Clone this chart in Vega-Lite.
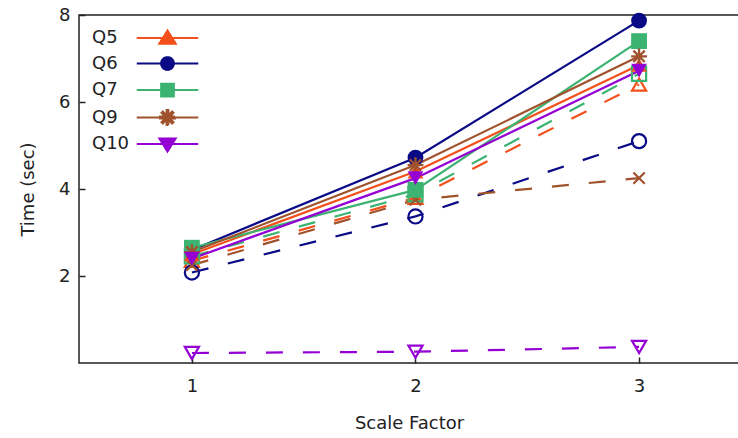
{
  "$schema": "https://vega.github.io/schema/vega-lite/v6.json",
  "width": 660,
  "height": 348,
  "autosize": {"type": "none"},
  "padding": {"left": 79, "top": 15, "right": 0, "bottom": 75},
  "background": "white",
  "config": {
    "view": {"stroke": "#222", "strokeWidth": 1.5},
    "font": "DejaVu Sans",
    "axis": {
      "domain": false,
      "grid": false,
      "labelFont": "DejaVu Sans",
      "labelFontSize": 18,
      "labelColor": "#222",
      "titleFont": "DejaVu Sans",
      "titleFontSize": 18,
      "titleFontWeight": "normal",
      "titleColor": "#222",
      "tickColor": "#222",
      "tickWidth": 1.5,
      "tickSize": -6
    }
  },
  "resolve": {"legend": {"color": "independent", "shape": "independent"}},
  "data": {
    "values": [
      {"q": "Q5", "kind": "solid", "sf": 1, "t": 2.5},
      {"q": "Q5", "kind": "solid", "sf": 2, "t": 4.4},
      {"q": "Q5", "kind": "solid", "sf": 3, "t": 6.85},
      {"q": "Q5", "kind": "dashed", "sf": 1, "t": 2.35},
      {"q": "Q5", "kind": "dashed", "sf": 2, "t": 3.8},
      {"q": "Q5", "kind": "dashed", "sf": 3, "t": 6.4},
      {"q": "Q6", "kind": "solid", "sf": 1, "t": 2.6},
      {"q": "Q6", "kind": "solid", "sf": 2, "t": 4.72},
      {"q": "Q6", "kind": "solid", "sf": 3, "t": 7.87},
      {"q": "Q6", "kind": "dashed", "sf": 1, "t": 2.08},
      {"q": "Q6", "kind": "dashed", "sf": 2, "t": 3.37},
      {"q": "Q6", "kind": "dashed", "sf": 3, "t": 5.1},
      {"q": "Q7", "kind": "solid", "sf": 1, "t": 2.65},
      {"q": "Q7", "kind": "solid", "sf": 2, "t": 3.98},
      {"q": "Q7", "kind": "solid", "sf": 3, "t": 7.4},
      {"q": "Q7", "kind": "dashed", "sf": 1, "t": 2.45},
      {"q": "Q7", "kind": "dashed", "sf": 2, "t": 3.88},
      {"q": "Q7", "kind": "dashed", "sf": 3, "t": 6.65},
      {"q": "Q9", "kind": "solid", "sf": 1, "t": 2.55},
      {"q": "Q9", "kind": "solid", "sf": 2, "t": 4.55},
      {"q": "Q9", "kind": "solid", "sf": 3, "t": 7.05},
      {"q": "Q9", "kind": "dashed", "sf": 1, "t": 2.25},
      {"q": "Q9", "kind": "dashed", "sf": 2, "t": 3.75},
      {"q": "Q9", "kind": "dashed", "sf": 3, "t": 4.25},
      {"q": "Q10", "kind": "solid", "sf": 1, "t": 2.4},
      {"q": "Q10", "kind": "solid", "sf": 2, "t": 4.25},
      {"q": "Q10", "kind": "solid", "sf": 3, "t": 6.72},
      {"q": "Q10", "kind": "dashed", "sf": 1, "t": 0.23},
      {"q": "Q10", "kind": "dashed", "sf": 2, "t": 0.26},
      {"q": "Q10", "kind": "dashed", "sf": 3, "t": 0.37}
    ]
  },
  "encoding": {
    "x": {
      "field": "sf", "type": "quantitative",
      "scale": {"domain": [0.495, 3.447], "nice": false, "zero": false},
      "axis": {"values": [1, 2, 3], "format": "d", "title": "Scale Factor", "labelPadding": 20, "titlePadding": 19}
    },
    "y": {
      "field": "t", "type": "quantitative",
      "scale": {"domain": [0, 8], "nice": false},
      "axis": {"values": [2, 4, 6, 8], "title": "Time (sec)", "labelPadding": 15, "titlePadding": 21}
    }
  },
  "layer": [
    {
      "transform": [{"filter": "datum.kind == 'dashed'"}],
      "mark": {"type": "line", "strokeWidth": 2.2, "strokeDash": [17, 20]},
      "encoding": {
        "color": {
          "field": "q", "type": "nominal",
          "scale": {"domain": ["Q5", "Q6", "Q7", "Q9", "Q10"], "range": ["#f4501c", "#0a0a86", "#3cb371", "#a0522d", "#9400d3"]},
          "legend": {
            "orient": "none",
            "legendX": 79.5,
            "legendY": 14,
            "title": null,
            "labelFont": "DejaVu Sans",
            "labelFontSize": 18,
            "labelColor": "#222",
            "labelAlign": "left",
            "labelOffset": -84.5,
            "rowPadding": 4.5,
            "symbolSize": 225,
            "symbolStrokeWidth": 2,
            "symbolType": "circle",
            "symbolDash": [1, 0],
            "encode": {
              "symbols": {
                "update": {
                  "shape": {"signal": "datum.value == 'Q5' ? 'M-4.1,0L4.1,0M0,-1L1.1,0.75L-1.1,0.75Z' : datum.value == 'Q6' ? 'M-4.1,0L4.1,0M0.85,0A0.85,0.85,0,1,1,-0.85,0A0.85,0.85,0,1,1,0.85,0Z' : datum.value == 'Q7' ? 'M-4.1,0L4.1,0M-0.85,-0.85L0.85,-0.85L0.85,0.85L-0.85,0.85Z' : datum.value == 'Q9' ? 'M-4.1,0L4.1,0M-1,-0.12L1,-0.12L1,0.12L-1,0.12Z M0.12,-1L0.12,1L-0.12,1L-0.12,-1Z M-0.62,-0.8L0.8,0.62L0.62,0.8L-0.8,-0.62Z M-0.8,0.62L0.62,-0.8L0.8,-0.62L-0.62,0.8Z' : 'M-4.1,0L4.1,0M-1.1,-0.75L1.1,-0.75L0,1Z'"},
                  "fill": {"scale": "color", "field": "value"},
                  "stroke": {"scale": "color", "field": "value"},
                  "strokeWidth": {"value": 2},
                  "strokeDash": {"value": [1, 0]},
                  "opacity": {"value": 1}
                }
              }
            }
          }
        }
      }
    },
    {
      "transform": [{"filter": "datum.kind == 'solid'"}],
      "mark": {"type": "line", "strokeWidth": 2.2},
      "encoding": {"color": {"field": "q", "type": "nominal", "legend": null}}
    },
    {
      "transform": [{"filter": "datum.kind == 'dashed'"}],
      "mark": {"type": "point", "filled": false, "strokeWidth": 2.2, "size": 200, "opacity": 1},
      "encoding": {
        "color": {"field": "q", "type": "nominal", "legend": null},
        "shape": {
          "condition": {"test": "datum.q == 'Q9'", "value": "M-0.8,-0.8L0.8,0.8M-0.8,0.8L0.8,-0.8"},
          "field": "q", "type": "nominal",
          "scale": {"domain": ["Q5", "Q6", "Q7", "Q9", "Q10"], "range": ["triangle-up", "circle", "square", "M-1,-0.15L1,-0.15L1,0.15L-1,0.15Z M0.15,-1L0.15,1L-0.15,1L-0.15,-1Z M-0.61,-0.82L0.82,0.61L0.61,0.82L-0.82,-0.61Z M-0.82,0.61L0.61,-0.82L0.82,-0.61L-0.61,0.82Z", "triangle-down"]},
          "legend": null
        }
      }
    },
    {
      "transform": [{"filter": "datum.kind == 'solid'"}],
      "mark": {"type": "point", "filled": true, "size": 250, "opacity": 1},
      "encoding": {
        "color": {"field": "q", "type": "nominal", "legend": null},
        "shape": {"field": "q", "type": "nominal", "legend": null}
      }
    }
  ]
}
